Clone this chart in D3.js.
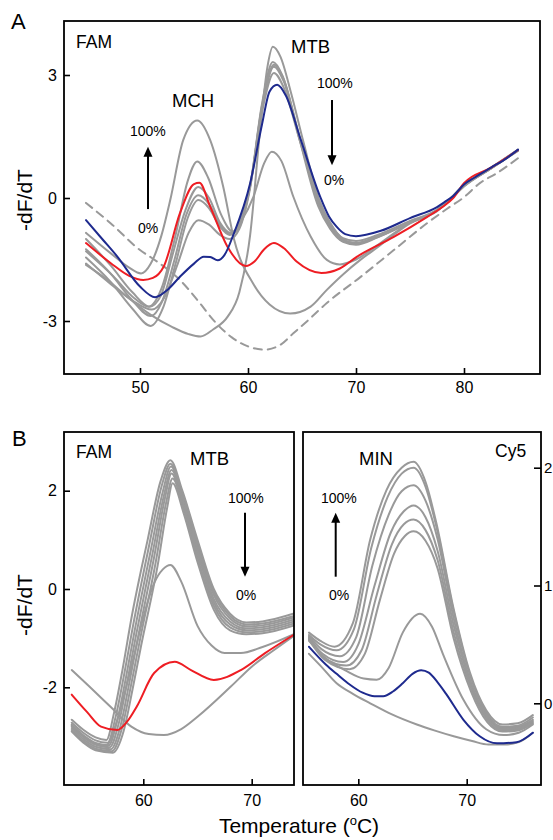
<!DOCTYPE html>
<html><head><meta charset="utf-8">
<script src="https://cdn.jsdelivr.net/npm/d3@7"></script>
<style>html,body{margin:0;padding:0;background:#fff;}svg{display:block;}</style>
</head><body>
<script>
// ---------------- DATA ----------------
// Panel A (FAM) : [temperature, -dF/dT]
const tickXA = [50, 60, 70, 80];
const tickYA = [-3, 0, 3];
const aGray1 = [[45,-0.85],[47.3,-1.35],[49,-1.7],[50.1,-1.84],[51,-1.6],[52,-0.9],[52.8,-0.05],[54,1.41],[55.3,1.89],[56.5,1.41],[57.7,0.28],[58.7,-1.0],[60.5,-2.1],[62,-2.6],[63.9,-2.82],[65.8,-2.65],[67.3,-2.24],[68.9,-1.84],[70.4,-1.51],[72,-1.2],[75,-0.62],[77.5,-0.3],[78.5,-0.08],[80,0.3],[82.5,0.72],[85,1.15]];
const aGray2 = [[45,-1.3],[47.5,-1.9],[49.5,-2.45],[50.8,-2.65],[52,-2.2],[53.3,-0.9],[54.4,0.4],[55.3,0.89],[56.3,0.5],[57.5,-0.4],[58.6,-0.82],[59.4,-0.55],[60.5,0.03],[61.5,0.85],[62.2,1.13],[63.1,0.9],[64.2,0.03],[65.8,-0.94],[67.3,-1.51],[68.5,-1.62],[70,-1.5],[72,-1.15],[75,-0.6],[77.5,-0.3],[78.5,-0.08],[80,0.3],[82.5,0.73],[85,1.17]];
const aGray3 = [[45,-1.0],[47.3,-1.65],[49.3,-2.3],[50.9,-2.65],[51.9,-2.4],[53,-1.4],[54.2,-0.3],[55.4,0.27],[56.4,0.0],[57.4,-0.6],[58.4,-0.85],[59.2,-0.6],[60.2,0.3],[61.3,2.1],[62.4,3.05],[63.3,2.7],[64.8,1.4],[66.6,-0.1],[67.6,-0.62],[68.8,-0.98],[70,-1.05],[72,-0.9],[75,-0.56],[77.5,-0.28],[78.5,-0.07],[80,0.32],[82.5,0.74],[85,1.18]];
const aGray4 = [[45,-1.25],[47.3,-1.85],[49.3,-2.5],[51,-2.88],[52,-2.55],[53.2,-1.5],[54.3,-0.4],[55.4,0.07],[56.4,-0.15],[57.4,-0.65],[58.4,-0.88],[59.2,-0.65],[60.2,0.3],[61.3,2.2],[62.4,3.2],[63.3,2.85],[64.8,1.45],[66.6,-0.15],[67.6,-0.68],[68.8,-1.02],[70,-1.1],[72,-0.93],[75,-0.58],[77.5,-0.3],[78.5,-0.08],[80,0.3],[82.5,0.73],[85,1.17]];
const aGray5 = [[45,-1.45],[47.3,-2.05],[49.3,-2.7],[51,-3.12],[52.1,-2.7],[53.3,-1.6],[54.4,-0.5],[55.4,-0.05],[56.4,-0.25],[57.4,-0.7],[58.3,-0.9],[59.2,-0.7],[60.2,0.3],[61.3,2.3],[62.3,3.32],[63.2,2.98],[64.7,1.5],[66.5,-0.2],[67.6,-0.75],[68.8,-1.07],[70,-1.14],[72,-0.96],[75,-0.6],[77.5,-0.32],[78.5,-0.1],[80,0.28],[82.5,0.72],[85,1.16]];
const aGray6 = [[45,-1.6],[47.3,-2.1],[49.3,-2.5],[51.1,-2.72],[52.2,-2.45],[53.5,-1.6],[54.5,-0.85],[55.4,-0.54],[56.4,-0.65],[57.4,-0.9],[58.3,-1.0],[59.2,-0.75],[60.2,0.25],[61.3,2.25],[62.4,3.25],[63.3,2.9],[64.8,1.45],[66.6,-0.17],[67.6,-0.7],[68.8,-1.05],[70,-1.12],[72,-0.95],[75,-0.6],[77.5,-0.31],[78.5,-0.09],[80,0.29],[82.5,0.72],[85,1.16]];
const aGray7 = [[45,-1.63],[47,-2.0],[49,-2.45],[51,-2.85],[53,-3.15],[54.5,-3.32],[55.6,-3.38],[56.8,-3.2],[58.1,-2.9],[59.2,-2.3],[60.2,-0.9],[61.1,1.6],[61.8,3.2],[62.3,3.69],[63,3.45],[64,2.55],[65.1,1.4],[66.6,-0.05],[67.6,-0.6],[68.8,-1.0],[70,-1.1],[72,-0.93],[75,-0.58],[77.5,-0.3],[78.5,-0.08],[80,0.3],[82.5,0.73],[85,1.17]];
const aDashed = [[45,-0.12],[47.3,-0.62],[50,-1.27],[51.3,-1.5],[53.7,-2.0],[55.5,-2.55],[56.8,-2.98],[58.5,-3.4],[60,-3.62],[61.5,-3.7],[63,-3.58],[64.2,-3.3],[65.7,-2.95],[67.3,-2.56],[70.4,-1.93],[73.5,-1.27],[76.6,-0.61],[78.5,-0.25],[80,0.02],[81.5,0.37],[83,0.6],[85,0.97]];
const aRed = [[45,-1.1],[47.3,-1.59],[49,-1.9],[50.3,-2.0],[51.2,-1.95],[52.2,-1.67],[53.7,-0.37],[55,0.34],[55.5,0.37],[56.5,-0.21],[58.1,-1.19],[59.8,-1.66],[60.6,-1.55],[61.5,-1.25],[62.4,-1.1],[63.3,-1.22],[64.5,-1.55],[66.8,-1.83],[68.5,-1.72],[70.1,-1.43],[73.5,-0.95],[76.6,-0.46],[78,-0.22],[79,0.0],[80,0.36],[82.5,0.74],[85,1.17]];
const aBlue = [[45,-0.54],[46.5,-1.0],[47.9,-1.43],[50,-2.16],[51.4,-2.42],[52.5,-2.25],[53.7,-1.92],[55,-1.6],[55.9,-1.43],[56.5,-1.44],[57.2,-1.52],[57.8,-1.4],[58.7,-0.86],[60.2,0.36],[61.3,1.8],[62,2.6],[62.7,2.76],[63.5,2.5],[64.9,1.41],[66.7,0.02],[67.5,-0.45],[68.2,-0.7],[69,-0.88],[70,-0.93],[72.3,-0.8],[75,-0.49],[77.5,-0.22],[78.2,-0.1],[79,0.05],[80,0.33],[81,0.5],[82.5,0.74],[84,0.98],[85,1.18]];

// Panel B left (FAM, MTB)
const tickXB = [60, 70];
const tickYBL = [-2, 0, 2];
const blGray1 = [[53.4,-2.66],[54.5,-2.87],[55.6,-3.02],[56.6,-3.07],[57.3,-2.52],[58.1,-1.62],[58.9,-0.6],[60.4,1.0],[61.6,2.2],[62.5,2.62],[63.6,2.0],[65,1.0],[66.5,0.0],[68,-0.5],[69.5,-0.68],[71,-0.66],[73.9,-0.5]];
const blGray2 = [[53.4,-2.72],[54.5,-2.93],[55.6,-3.08],[56.7,-3.13],[57.45,-2.6],[58.25,-1.72],[59.05,-0.75],[60.55,0.9],[61.7,2.1],[62.5,2.55],[63.6,1.95],[65,0.94],[66.5,-0.06],[68,-0.55],[69.5,-0.72],[71,-0.7],[73.9,-0.55]];
const blGray3 = [[53.4,-2.76],[54.5,-2.98],[55.6,-3.13],[56.8,-3.18],[57.6,-2.67],[58.4,-1.8],[59.2,-0.85],[60.7,0.8],[61.8,1.98],[62.55,2.49],[63.6,1.9],[65,0.88],[66.5,-0.12],[68,-0.6],[69.5,-0.76],[71,-0.74],[73.9,-0.58]];
const blGray4 = [[53.4,-2.8],[54.5,-3.02],[55.6,-3.17],[56.9,-3.22],[57.75,-2.72],[58.55,-1.85],[59.35,-0.92],[60.85,0.72],[61.9,1.9],[62.6,2.42],[63.6,1.83],[65,0.8],[66.5,-0.2],[68,-0.66],[69.5,-0.8],[71,-0.78],[73.9,-0.62]];
const blGray5 = [[53.4,-2.83],[54.5,-3.06],[55.6,-3.21],[57.0,-3.26],[57.9,-2.78],[58.7,-1.92],[59.5,-1.0],[61,0.65],[62,1.85],[62.6,2.35],[63.6,1.76],[65,0.73],[66.5,-0.27],[68,-0.72],[69.5,-0.84],[71,-0.82],[73.9,-0.66]];
const blGray6 = [[53.4,-2.87],[54.5,-3.1],[55.6,-3.25],[57.1,-3.3],[58.05,-2.82],[58.85,-1.98],[59.65,-1.08],[61.15,0.55],[62.1,1.75],[62.7,2.25],[63.7,1.66],[65,0.64],[66.5,-0.34],[68,-0.78],[69.5,-0.88],[71,-0.86],[73.9,-0.7]];
const blGray7 = [[53.4,-2.9],[54.5,-3.13],[55.6,-3.28],[57.2,-3.33],[58.2,-2.88],[59,-2.05],[59.8,-1.15],[61.3,0.45],[62.2,1.65],[62.7,2.15],[63.7,1.56],[65,0.55],[66.5,-0.42],[68,-0.84],[69.5,-0.92],[71,-0.9],[73.9,-0.74]];
const blGray8 = [[53.4,-2.78],[54.5,-3.0],[55.6,-3.15],[56.6,-3.18],[57.4,-2.8],[58.3,-2.1],[59.1,-1.4],[59.8,-0.75],[61,0.12],[61.8,0.4],[62.5,0.49],[63.5,0.15],[65,-0.75],[66.3,-1.15],[67.5,-1.3],[69,-1.3],[71,-1.18],[73.9,-0.92]];
const blGray9 = [[53.4,-1.65],[55,-1.98],[57,-2.4],[58.9,-2.8],[60.5,-2.95],[61.9,-2.97],[63.5,-2.85],[65,-2.6],[68.1,-1.98],[70,-1.58],[72,-1.25],[73.9,-0.95]];
const blRed = [[53.4,-2.15],[54.8,-2.5],[56.1,-2.8],[57.6,-2.87],[58.5,-2.7],[59.4,-2.39],[61,-1.71],[62.9,-1.48],[64.4,-1.65],[66.5,-1.85],[69,-1.65],[71.2,-1.31],[73.9,-0.93]];

// Panel B right (Cy5, MIN)
const tickYBR = [0, 1, 2];
const brGray1 = [[55.45,0.6],[56.5,0.53],[57.8,0.48],[59.5,0.68],[61.1,1.39],[62.6,1.81],[64,2.0],[65.1,2.05],[66.2,1.88],[67.2,1.53],[68.75,0.82],[70.3,0.26],[71.8,-0.06],[73.3,-0.18],[74.7,-0.17],[76.1,-0.1]];
const brGray2 = [[55.45,0.58],[56.5,0.5],[58,0.45],[59.6,0.63],[61.2,1.32],[62.7,1.75],[64,1.95],[65.1,2.0],[66.2,1.84],[67.2,1.5],[68.75,0.8],[70.3,0.24],[71.8,-0.08],[73.3,-0.2],[74.7,-0.19],[76.1,-0.12]];
const brGray3 = [[55.45,0.57],[56.6,0.46],[58.3,0.4],[59.8,0.56],[61.3,1.17],[62.8,1.6],[64,1.8],[65.1,1.85],[66.2,1.72],[67.3,1.4],[68.8,0.72],[70.3,0.2],[71.8,-0.1],[73.3,-0.21],[74.7,-0.2],[76.1,-0.14]];
const brGray4 = [[55.45,0.56],[56.7,0.42],[58.6,0.35],[60,0.5],[61.5,1.0],[63,1.45],[64.2,1.63],[65.1,1.68],[66.2,1.58],[67.3,1.3],[68.8,0.66],[70.4,0.16],[71.9,-0.12],[73.3,-0.22],[74.7,-0.21],[76.1,-0.15]];
const brGray5 = [[55.45,0.55],[56.8,0.39],[58.9,0.32],[60.3,0.45],[61.7,0.92],[63.1,1.35],[64.2,1.52],[65.1,1.56],[66.2,1.47],[67.3,1.22],[68.8,0.6],[70.4,0.13],[71.9,-0.14],[73.3,-0.23],[74.7,-0.22],[76.1,-0.16]];
const brGray6 = [[55.45,0.54],[56.9,0.37],[59.2,0.29],[60.6,0.42],[62,0.88],[63.3,1.27],[64.3,1.42],[65.1,1.46],[66.2,1.38],[67.3,1.15],[68.8,0.55],[70.4,0.1],[71.9,-0.16],[73.3,-0.24],[74.7,-0.23],[76.1,-0.17]];
const brGray7 = [[55.45,0.53],[57,0.38],[58.8,0.28],[60.5,0.21],[61.7,0.2],[62.8,0.3],[64.1,0.6],[65.7,0.76],[66.8,0.65],[67.8,0.42],[69.7,0.03],[71.8,-0.22],[73.4,-0.27],[74.8,-0.25],[76.1,-0.18]];
const brGray8 = [[55.45,0.42],[56.5,0.32],[58,0.17],[59.5,0.08],[61.1,0.0],[63,-0.09],[65.4,-0.18],[67,-0.23],[68.8,-0.28],[70.5,-0.32],[72,-0.35],[73.5,-0.35],[74.8,-0.33],[76.1,-0.25]];
const brBlue = [[55.45,0.48],[57,0.33],[58,0.25],[59.2,0.16],[60.4,0.09],[61.5,0.06],[62.3,0.06],[63.2,0.1],[64.1,0.17],[65,0.25],[65.8,0.28],[66.5,0.26],[67.3,0.18],[68.1,0.08],[69.7,-0.14],[71.2,-0.28],[72.8,-0.34],[74.6,-0.33],[76.1,-0.25]];

// ---------------- DRAW ----------------
const W = 553, H = 840;
const FONT = "Arial, 'Liberation Sans', Helvetica, sans-serif";
const GRAY = "#999999", RED = "#ee1d23", BLUE = "#1e2a8e";

const svg = d3.select("body").append("svg").attr("width", W).attr("height", H)
  .style("font-family", FONT);
svg.append("rect").attr("width", W).attr("height", H).attr("fill", "#fff");

const defs = svg.append("defs");

function panel(id, box, x, y, series, axes) {
  defs.append("clipPath").attr("id", id).append("rect")
    .attr("x", box.x0).attr("y", box.y0).attr("width", box.x1 - box.x0).attr("height", box.y1 - box.y0);
  const line = d3.line().x(d => x(d[0])).y(d => y(d[1])).curve(d3.curveMonotoneX);
  const g = svg.append("g").attr("clip-path", `url(#${id})`);
  series.forEach(s => {
    g.append("path").attr("d", line(s.data)).attr("fill", "none")
      .attr("stroke", s.color).attr("stroke-width", s.w || 2)
      .attr("stroke-dasharray", s.dash || null)
      .attr("stroke-linejoin", "round").attr("stroke-linecap", "round");
  });
  axes.forEach(a => {
    const ag = svg.append("g").attr("transform", a.tr).call(a.axis);
    ag.select(".domain").remove();
    ag.selectAll(".tick line").attr("stroke", "#000").attr("stroke-width", 1.6);
    ag.selectAll(".tick text").attr("fill", "#000").style("font-size", a.fs + "px").style("font-family", FONT);
  });
  svg.append("rect").attr("x", box.x0).attr("y", box.y0)
    .attr("width", box.x1 - box.x0).attr("height", box.y1 - box.y0)
    .attr("fill", "none").attr("stroke", "#000").attr("stroke-width", 1.8);
}

function text(x, y, s, fs, anchor) {
  return svg.append("text").attr("x", x).attr("y", y).text(s)
    .attr("font-size", fs).attr("fill", "#000").attr("text-anchor", anchor || "start");
}
function arrow(x, y0, y1) { // from y0 to tip at y1
  const dir = y1 > y0 ? 1 : -1;
  svg.append("line").attr("x1", x).attr("x2", x).attr("y1", y0).attr("y2", y1 - dir * 8)
    .attr("stroke", "#000").attr("stroke-width", 2);
  svg.append("path").attr("d", `M${x - 4.5},${y1 - dir * 10}L${x + 4.5},${y1 - dir * 10}L${x},${y1}Z`).attr("fill", "#000");
}
const fmt = d => String(d);

// ---- Panel A ----
const boxA = {x0: 64, x1: 540, y0: 21, y1: 374};
const xA = d3.scaleLinear().domain([50, 80]).range([140, 464]);
const yA = d3.scaleLinear().domain([3, -3]).range([75, 321]);
panel("clipA", boxA, xA, yA, [
  {data: aGray1, color: GRAY}, {data: aGray2, color: GRAY}, {data: aGray3, color: GRAY},
  {data: aGray4, color: GRAY}, {data: aGray5, color: GRAY}, {data: aGray6, color: GRAY},
  {data: aGray7, color: GRAY},
  {data: aDashed, color: GRAY, dash: "8,6"},
  {data: aRed, color: RED}, {data: aBlue, color: BLUE}
], [
  {tr: `translate(0,${boxA.y1})`, axis: d3.axisBottom(xA).tickValues(tickXA).tickSize(-6).tickPadding(8).tickFormat(fmt), fs: 16},
  {tr: `translate(${boxA.x0},0)`, axis: d3.axisLeft(yA).tickValues(tickYA).tickSize(-6).tickPadding(7).tickFormat(fmt), fs: 16}
]);
text(11, 29, "A", 22);
text(76, 48, "FAM", 17.5);
text(172, 107, "MCH", 18.5);
text(291, 53, "MTB", 18.5);
text(130, 136, "100%", 14);
arrow(xA(50.74), yA(-0.27), yA(1.25));
text(138, 233, "0%", 14);
text(317, 88, "100%", 14);
arrow(xA(67.78), yA(2.39), yA(0.80));
text(324, 185, "0%", 14);
svg.append("text").attr("transform", "translate(32,200) rotate(-90)").attr("text-anchor", "middle")
  .attr("font-size", 21).text("-dF/dT");

// ---- Panel B left ----
const boxBL = {x0: 64, x1: 294, y0: 432, y1: 785};
const xBL = d3.scaleLinear().domain([60, 70]).range([143.3, 251.7]);
const yBL = d3.scaleLinear().domain([2, -2]).range([490.7, 687.3]);
panel("clipBL", boxBL, xBL, yBL, [
  {data: blGray9, color: GRAY}, {data: blGray8, color: GRAY},
  {data: blGray7, color: GRAY}, {data: blGray6, color: GRAY}, {data: blGray5, color: GRAY},
  {data: blGray4, color: GRAY}, {data: blGray3, color: GRAY}, {data: blGray2, color: GRAY},
  {data: blGray1, color: GRAY},
  {data: blRed, color: RED}
], [
  {tr: `translate(0,${boxBL.y1})`, axis: d3.axisBottom(xBL).tickValues(tickXB).tickSize(-6).tickPadding(10).tickFormat(fmt), fs: 16},
  {tr: `translate(${boxBL.x0},0)`, axis: d3.axisLeft(yBL).tickValues(tickYBL).tickSize(-6).tickPadding(7).tickFormat(fmt), fs: 16}
]);
text(12, 446, "B", 22);
text(76, 458, "FAM", 17.5);
text(190, 465, "MTB", 18.5);
text(228, 503, "100%", 14);
arrow(245, 512.7, 576.7);
text(236, 600, "0%", 14);
svg.append("text").attr("transform", "translate(32,605) rotate(-90)").attr("text-anchor", "middle")
  .attr("font-size", 21).text("-dF/dT");

// ---- Panel B right ----
const boxBR = {x0: 303, x1: 541, y0: 432, y1: 785};
const xBR = d3.scaleLinear().domain([60, 70]).range([358.3, 466.7]);
const yBR = d3.scaleLinear().domain([2, 0]).range([467.7, 703.3]);
panel("clipBR", boxBR, xBR, yBR, [
  {data: brGray8, color: GRAY}, {data: brGray7, color: GRAY},
  {data: brGray6, color: GRAY}, {data: brGray5, color: GRAY}, {data: brGray4, color: GRAY},
  {data: brGray3, color: GRAY}, {data: brGray2, color: GRAY}, {data: brGray1, color: GRAY},
  {data: brBlue, color: BLUE}
], [
  {tr: `translate(0,${boxBR.y1})`, axis: d3.axisBottom(xBR).tickValues(tickXB).tickSize(-6).tickPadding(10).tickFormat(fmt), fs: 16},
  {tr: `translate(${boxBR.x1},0)`, axis: d3.axisRight(yBR).tickValues(tickYBR).tickSize(-7).tickPadding(3).tickFormat(fmt), fs: 15}
]);
text(359, 465, "MIN", 18.5);
text(495, 457, "Cy5", 17.5);
text(321, 503, "100%", 14);
arrow(335.7, 576.7, 512.7);
text(329, 600, "0%", 14);

// x title
const xt = svg.append("text").attr("x", 299).attr("y", 833).attr("text-anchor", "middle").attr("font-size", 21);
xt.append("tspan").text("Temperature (");
xt.append("tspan").attr("font-size", 13).attr("dy", -8).text("o");
xt.append("tspan").attr("dy", 8).text("C)");
</script>
</body></html>
